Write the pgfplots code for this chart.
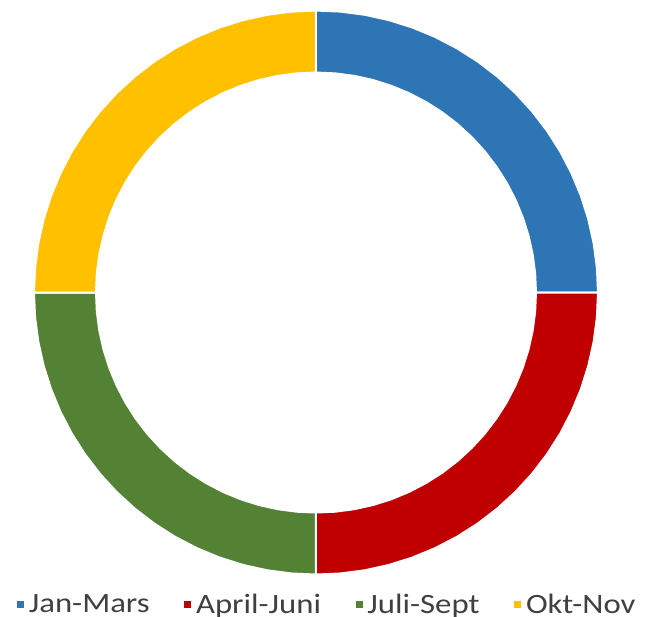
\documentclass[border=0pt]{standalone}
\usepackage{pgfplots}
\pgfplotsset{compat=1.18}
\usepgfplotslibrary{polar}
\usepackage{fontspec}
\setmainfont{Carlito}[FakeStretch=1.17]
\definecolor{cblue}{HTML}{2E75B6}
\definecolor{cred}{HTML}{C00000}
\definecolor{cgreen}{HTML}{548235}
\definecolor{cgold}{HTML}{FFC000}
\definecolor{ctext}{HTML}{404040}
\begin{document}
\begin{tikzpicture}
\useasboundingbox (-237pt,219.4pt) rectangle (247.5pt,-243.35pt);
\begin{polaraxis}[
  at={(0,0)}, anchor=center,
  scale only axis, width=423pt, height=423pt,
  hide axis, clip=false,
  ymin=0, ymax=282,
  legend columns=4,
  legend style={draw=none, fill=none, at={(0.5,0)}, anchor=center, yshift=-22.5pt, xshift=8pt,
    font=\fontsize{21}{24}\selectfont, text=ctext,
    /tikz/every even column/.append style={column sep=22.5pt}},
  legend image code/.code={\fill[#1] (0pt,-3.4pt) rectangle (6.8pt,3.4pt);},
  every axis plot/.append style={draw=white, line width=1.5pt},
]
\addplot[fill=cblue, draw=white] coordinates {
(0,282)(5,282)(10,282)(15,282)(20,282)(25,282)(30,282)(35,282)(40,282)(45,282)(50,282)(55,282)(60,282)(65,282)(70,282)(75,282)(80,282)(85,282)(90,282)
(90,220)(85,220)(80,220)(75,220)(70,220)(65,220)(60,220)(55,220)(50,220)(45,220)(40,220)(35,220)(30,220)(25,220)(20,220)(15,220)(10,220)(5,220)(0,220)
} --cycle;
\addlegendentry{Jan-Mars}
\addplot[fill=cred, draw=white] coordinates {
(270,282)(275,282)(280,282)(285,282)(290,282)(295,282)(300,282)(305,282)(310,282)(315,282)(320,282)(325,282)(330,282)(335,282)(340,282)(345,282)(350,282)(355,282)(360,282)
(360,220)(355,220)(350,220)(345,220)(340,220)(335,220)(330,220)(325,220)(320,220)(315,220)(310,220)(305,220)(300,220)(295,220)(290,220)(285,220)(280,220)(275,220)(270,220)
} --cycle;
\addlegendentry{April-Juni}
\addplot[fill=cgreen, draw=white] coordinates {
(180,282)(185,282)(190,282)(195,282)(200,282)(205,282)(210,282)(215,282)(220,282)(225,282)(230,282)(235,282)(240,282)(245,282)(250,282)(255,282)(260,282)(265,282)(270,282)
(270,220)(265,220)(260,220)(255,220)(250,220)(245,220)(240,220)(235,220)(230,220)(225,220)(220,220)(215,220)(210,220)(205,220)(200,220)(195,220)(190,220)(185,220)(180,220)
} --cycle;
\addlegendentry{Juli-Sept}
\addplot[fill=cgold, draw=white] coordinates {
(90,282)(95,282)(100,282)(105,282)(110,282)(115,282)(120,282)(125,282)(130,282)(135,282)(140,282)(145,282)(150,282)(155,282)(160,282)(165,282)(170,282)(175,282)(180,282)
(180,220)(175,220)(170,220)(165,220)(160,220)(155,220)(150,220)(145,220)(140,220)(135,220)(130,220)(125,220)(120,220)(115,220)(110,220)(105,220)(100,220)(95,220)(90,220)
} --cycle;
\addlegendentry{Okt-Nov}
\end{polaraxis}
\end{tikzpicture}
\end{document}
